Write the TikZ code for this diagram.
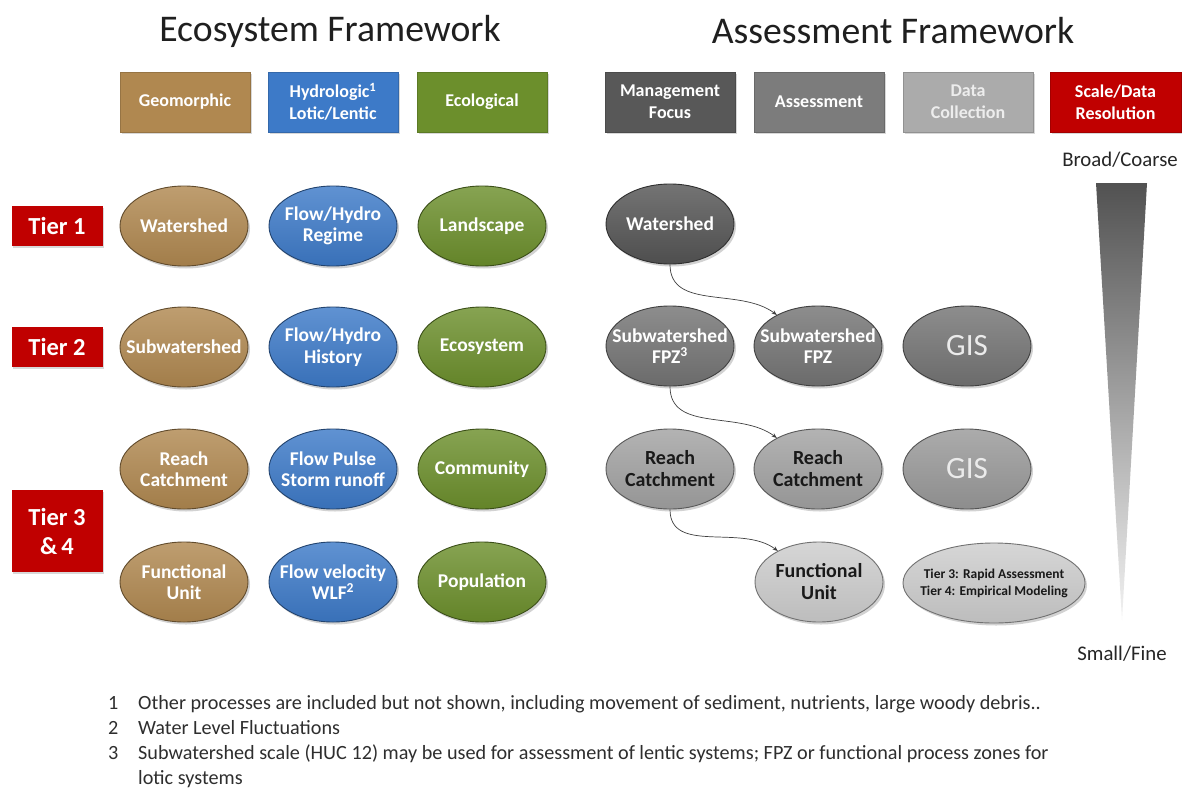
\documentclass[tikz,border=0pt]{standalone}
\usepackage{fontspec}
\setmainfont{Carlito}
\usetikzlibrary{shapes.geometric,shadows,arrows.meta}
\definecolor{geo}{HTML}{B08850}
\definecolor{hyd}{HTML}{3D7AC8}
\definecolor{eco}{HTML}{6C8F2C}
\definecolor{mgmt}{HTML}{585858}
\definecolor{asmt}{HTML}{7C7C7C}
\definecolor{datac}{HTML}{ABABAB}
\definecolor{tierred}{HTML}{C00000}
\definecolor{ovmg}{HTML}{555555}
\definecolor{ovas}{HTML}{747474}
\definecolor{ovrc}{HTML}{A2A2A2}
\definecolor{ovgis}{HTML}{999999}
\definecolor{ovlt}{HTML}{CDCDCD}
\tikzset{
  hdrbox/.style={rectangle, minimum width=130pt, minimum height=60pt, inner sep=0pt,
    fill=#1, draw=#1!85!black, line width=0.4pt,
    drop shadow={shadow xshift=1.5pt, shadow yshift=-2pt, opacity=0.3},
    text=white, font=\fontsize{18}{22}\selectfont\bfseries, align=center},
  tierbox/.style={rectangle, minimum width=91pt, minimum height=#1, inner sep=0pt,
    fill=tierred, drop shadow={shadow xshift=1.5pt, shadow yshift=-2pt, opacity=0.3},
    text=white, font=\fontsize{24.5}{29}\selectfont\bfseries, align=center},
  oval/.style={ellipse, minimum width=128pt, minimum height=80pt, inner sep=0pt,
    top color=#1!82!white, bottom color=#1!92!black, draw=#1!55!black, line width=0.9pt,
    drop shadow={shadow xshift=2pt, shadow yshift=-2.5pt, opacity=0.35}},
  lbl/.style={text=white, font=\fontsize{19.5}{21.5}\selectfont\bfseries, align=center, inner sep=0pt},
  lbldark/.style={text=black!90, font=\fontsize{20}{22}\selectfont\bfseries, align=center, inner sep=0pt},
  lblgis/.style={text=white!92!black, font=\fontsize{31}{33}\selectfont, inner sep=0pt},
  lblsmall/.style={text=black!90, font=\fontsize{13.5}{17}\selectfont\bfseries, align=center, inner sep=0pt},
  title/.style={text=black!88, font=\fontsize{37.7}{40}\selectfont, inner sep=0pt},
  scaletxt/.style={text=black!85, font=\fontsize{20.8}{22}\selectfont, inner sep=0pt},
  note/.style={text=black!82, font=\fontsize{20.2}{22}\selectfont, inner sep=0pt, anchor=base west},
  conn/.style={draw=black!75, line width=0.7pt, -{Stealth[length=5pt,width=4pt]}}
}
\begin{document}
\begin{tikzpicture}[x=1pt,y=-1pt]
\useasboundingbox[fill=white] (0,0) rectangle (1182,789);

% titles
\node[title] (t1) at (330,31) {Ecosystem Framework};
\node[title] (t2) at (893,31) {Assessment Framework};

% header boxes
\node[hdrbox=geo] (h1) at (185,102) {Geomorphic};
\node[hdrbox=hyd] (h2) at (333,102) {Hydrologic\textsuperscript{1}\\Lotic/Lentic};
\node[hdrbox=eco] (h3) at (482,102) {Ecological};
\node[hdrbox=mgmt] (h4) at (670,102) {Management\\Focus};
\node[hdrbox=asmt] (h5) at (819,102) {Assessment};
\node[hdrbox=datac, text=white!93!black] (h6) at (968,102) {Data\\Collection};
\node[hdrbox=tierred, minimum width=131pt] (h7) at (1115.5,102) {Scale/Data\\Resolution};

% tier boxes
\node[tierbox=40pt] (tier1) at (57,226) {Tier 1};
\node[tierbox=40pt] (tier2) at (57,347) {Tier 2};
\node[tierbox=82pt] (tier3) at (57,531) {Tier 3\\\&\,4};

% ecosystem ellipses
\node[oval=geo, label={[lbl]center:Watershed}] (g1) at (184,226) {};
\node[oval=geo, label={[lbl]center:Subwatershed}] (g2) at (184,347) {};
\node[oval=geo, label={[lbl]center:{Reach\\Catchment}}] (g3) at (184,469) {};
\node[oval=geo, label={[lbl]center:{Functional\\Unit}}] (g4) at (184,582) {};

\node[oval=hyd, label={[lbl]center:{Flow/Hydro\\Regime}}] (y1) at (333,226) {};
\node[oval=hyd, label={[lbl]center:{Flow/Hydro\\History}}] (y2) at (333,347) {};
\node[oval=hyd, label={[lbl]center:{Flow Pulse\\Storm runoff}}] (y3) at (333,469) {};
\node[oval=hyd, label={[lbl]center:{Flow velocity\\WLF\textsuperscript{2}}}] (y4) at (333,582) {};

\node[oval=eco, label={[lbl]center:Landscape}] (e1) at (482,226) {};
\node[oval=eco, label={[lbl]center:Ecosystem}] (e2) at (482,347) {};
\node[oval=eco, label={[lbl]center:Community}] (e3) at (482,469) {};
\node[oval=eco, label={[lbl]center:Population}] (e4) at (482,582) {};

% assessment ellipses
\node[oval=ovmg, label={[lbl]center:Watershed}] (m1) at (670,224) {};
\node[oval=ovas, label={[lbl]center:{Subwatershed\\FPZ\textsuperscript{3}}}] (m2) at (670,346) {};
\node[oval=ovas, label={[lbl]center:{Subwatershed\\FPZ}}] (a2) at (818,346) {};
\node[oval=ovas, label={[lblgis]center:GIS}] (d2) at (967,346) {};
\node[oval=ovrc, label={[lbldark]center:{Reach\\Catchment}}] (m3) at (670,469) {};
\node[oval=ovrc, label={[lbldark]center:{Reach\\Catchment}}] (a3) at (818,469) {};
\node[oval=ovgis, label={[lblgis]center:GIS}] (d3) at (967,469) {};
\node[oval=ovlt, label={[lbldark]center:{Functional\\Unit}}] (a4) at (819,582) {};
\node[oval=ovlt, minimum width=182pt, label={[lblsmall]center:{Tier 3: Rapid Assessment\\Tier 4: Empirical Modeling}}] (d4) at (994,583) {};

% connectors
\draw[conn] (m1.south) to[out=-90, in=143] (a2.143);
\draw[conn] (m2.south) to[out=-90, in=143] (a3.143);
\draw[conn] (m3.south) to[out=-90, in=143] (a4.143);

% scale wedge
\node[scaletxt] (broad) at (1120,160) {Broad/Coarse};
\node[scaletxt] (small) at (1122,654) {Small/Fine};
\coordinate (wl) at (1096,183);
\coordinate (wr) at (1147,183);
\coordinate (wt) at (1122,620);
\shade[top color=black!68, bottom color=black!5] (wl) -- (wr) -- (wt) -- cycle;

% footnotes
\node[note] (n1) at (108,709) {1};
\node[note] (f1) at (138,709) {Other processes are included but not shown, including movement of sediment, nutrients, large woody debris..};
\node[note] (n2) at (108,734) {2};
\node[note] (f2) at (138,734) {Water Level Fluctuations};
\node[note] (n3) at (108,759) {3};
\node[note] (f3) at (138,759) {Subwatershed scale (HUC 12) may be used for assessment of lentic systems; FPZ or functional process zones for};
\node[note] (f3b) at (138,784) {lotic systems};
\end{tikzpicture}
\end{document}
